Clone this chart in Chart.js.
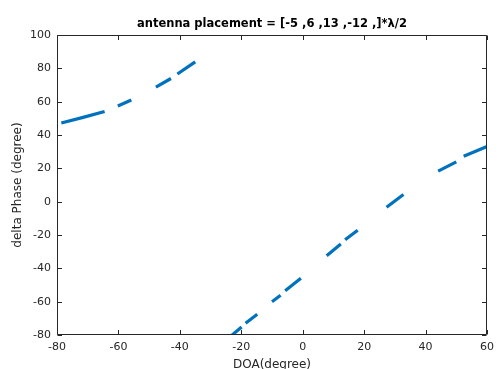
<!DOCTYPE html>
<html>
<head>
<meta charset="utf-8">
<script src="https://cdn.jsdelivr.net/npm/chart.js@4/dist/chart.umd.min.js"></script>
<style>
  html, body { margin: 0; padding: 0; background: #ffffff; }
  #wrap { width: 500px; height: 369px; }
</style>
</head>
<body>
<div id="wrap"><canvas id="c" width="500" height="369"></canvas></div>
<script>
// ---- data (null = gap between drawn pieces) ----
const doaDeg = [
  -78.6, -71.5, -64.5, null,
  -60.2, -55.8, null,
  -47.8, -42.9, null,
  -40.8, -35.0, null,
  -23.8, -19.9, null,
  -18.6, -14.8, null,
  -10.0, -7.2, null,
  -5.7, -0.6, null,
  7.8, 12.4, null,
  13.8, 17.9, null,
  27.3, 32.8, null,
  44.1, 50.0, null,
  52.4, 56.5, 60.0
];
const deltaPhase = [
  47.2, 50.6, 54.1, null,
  57.4, 61.0, null,
  68.7, 73.9, null,
  76.6, 83.9, null,
  -81.3, -75.2, null,
  -73.0, -67.6, null,
  -60.0, -56.2, null,
  -53.4, -46.0, null,
  -32.4, -25.4, null,
  -22.9, -17.1, null,
  -3.4, 4.3, null,
  18.3, 23.9, null,
  27.2, 30.4, 33.1
];
const xTicks = [-80, -60, -40, -20, 0, 20, 40, 60];
const yTicks = [-80, -60, -40, -20, 0, 20, 40, 60, 80, 100];
const titleText = 'antenna placement = [-5 ,6 ,13 ,-12 ,]*\u03BB/2';
const xLabel = 'DOA(degree)';
const yLabel = 'delta Phase (degree)';

// split the series into its visible pieces (one dataset per piece)
const pieces = [];
let cur = [];
doaDeg.forEach((x, i) => {
  if (x === null || deltaPhase[i] === null) {
    if (cur.length) pieces.push(cur);
    cur = [];
  } else {
    cur.push({ x: x, y: deltaPhase[i] });
  }
});
if (cur.length) pieces.push(cur);

const AXIS_COLOR = '#262626';
const FONT = 'DejaVu Sans';

// MATLAB-style box with inward ticks on all four sides
const boxPlugin = {
  id: 'matlabBox',
  afterDraw(chart) {
    const { ctx, chartArea: a, scales } = chart;
    const tl = 4.5;
    ctx.save();
    ctx.strokeStyle = AXIS_COLOR;
    ctx.lineWidth = 1;
    ctx.beginPath();
    const L = Math.round(a.left) + 0.5, R = Math.round(a.right) - 0.5;
    const T = Math.round(a.top) + 0.5, B = Math.round(a.bottom) - 0.5;
    ctx.rect(L, T, R - L, B - T);
    xTicks.forEach(v => {
      const px = Math.round(scales.x.getPixelForValue(v)) + 0.5;
      ctx.moveTo(px, B); ctx.lineTo(px, B - tl);
      ctx.moveTo(px, T); ctx.lineTo(px, T + tl);
    });
    yTicks.forEach(v => {
      const py = Math.round(scales.y.getPixelForValue(v)) + 0.5;
      ctx.moveTo(L, py); ctx.lineTo(L + tl, py);
      ctx.moveTo(R, py); ctx.lineTo(R - tl, py);
    });
    ctx.stroke();
    ctx.restore();
  }
};

new Chart(document.getElementById('c'), {
  type: 'line',
  data: {
    datasets: pieces.map(p => ({
      data: p,
      borderColor: '#0072BD',
      backgroundColor: '#0072BD',
      borderWidth: 3.2,
      borderCapStyle: 'butt',
      borderJoinStyle: 'round',
      pointRadius: 0,
      tension: 0
    }))
  },
  options: {
    responsive: false,
    devicePixelRatio: 1,
    animation: false,
    layout: { padding: { left: 0, right: 9, top: 0, bottom: 0 } },
    plugins: {
      legend: { display: false },
      tooltip: { enabled: false },
      title: {
        display: true,
        text: titleText,
        fullSize: false,
        color: '#000000',
        font: { family: FONT, size: 11.5, weight: 'bold', lineHeight: 1.2 },
        padding: { top: 17.5, bottom: 3.7 }
      }
    },
    scales: {
      x: {
        type: 'linear',
        min: -80, max: 60,
        afterBuildTicks: (s) => { s.ticks = xTicks.map(v => ({ value: v })); },
        afterFit: (s) => { s.height = 34; },
        grid: { display: false, drawTicks: false },
        border: { display: false },
        ticks: {
          color: AXIS_COLOR,
          padding: 6,
          maxRotation: 0,
          font: { family: FONT, size: 11 },
          callback: (v) => String(v)
        },
        title: {
          display: true,
          text: xLabel,
          color: AXIS_COLOR,
          font: { family: FONT, size: 12 },
          padding: { top: 0, bottom: -3 }
        }
      },
      y: {
        type: 'linear',
        min: -80, max: 100,
        afterBuildTicks: (s) => { s.ticks = yTicks.map(v => ({ value: v })); },
        afterFit: (s) => { s.width = 57; },
        grid: { display: false, drawTicks: false },
        border: { display: false },
        ticks: {
          color: AXIS_COLOR,
          padding: 6,
          font: { family: FONT, size: 11 },
          callback: (v) => String(v)
        },
        title: {
          display: true,
          text: yLabel,
          color: AXIS_COLOR,
          font: { family: FONT, size: 12 },
          padding: { top: 11, bottom: 0 }
        }
      }
    }
  },
  plugins: [boxPlugin]
});
</script>
</body>
</html>
